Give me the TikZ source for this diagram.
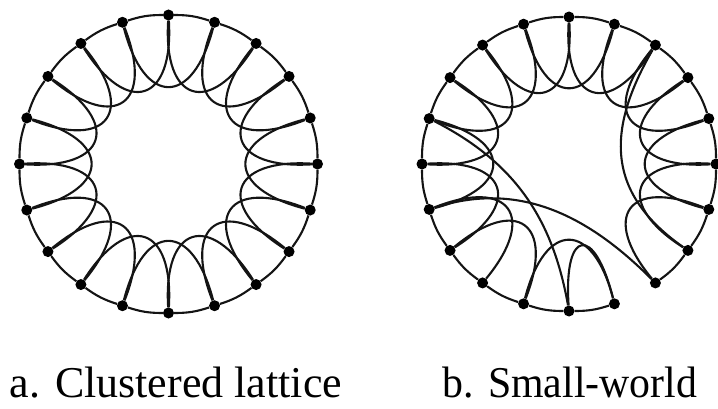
\documentclass[tikz,border=0pt]{standalone}
\usepackage{fontspec}
\usepackage{graphicx}
\setmainfont{Liberation Serif}
\usetikzlibrary{calc}
\begin{document}
\begin{tikzpicture}[x=1pt,y=1pt,
  dot/.style={circle,fill=black,draw=none,inner sep=0pt,minimum size=11pt},
  link/.style={line width=2.1pt,black!92},
  caption/.style={anchor=base,inner sep=0pt,font=\fontsize{44}{48}\selectfont}]
\useasboundingbox (0,0) rectangle (718,408);
\coordinate (Lc) at (168.5,244);
\coordinate (Rc) at (569,244);
\foreach \k in {0,...,19}{
  \pgfmathsetmacro\a{90-18*\k}
  \node[dot] (L\k) at ($(Lc)+(\a:149)$) {};
  \node[dot] (R\k) at ($(Rc)+(\a:147)$) {};
}
% left: clustered lattice
\foreach \k in {0,...,19}{
  \pgfmathtruncatemacro\n{mod(\k+1,20)}
  \pgfmathtruncatemacro\m{mod(\k+2,20)}
  \pgfmathsetmacro\a{90-18*\k}
  \draw[link] (L\k) to[bend left=9] (L\n);
  \draw[link] (L\k) .. controls ($(Lc)+(\a+5:62)$) and ($(Lc)+(\a-41:62)$) .. (L\m);
}
% right: small world
\foreach \k in {0,...,7,9,10,...,19}{
  \pgfmathtruncatemacro\n{mod(\k+1,20)}
  \draw[link] (R\k) to[bend left=9] (R\n);
}
\foreach \k in {0,...,6,9,11,12,...,19}{
  \pgfmathtruncatemacro\m{mod(\k+2,20)}
  \pgfmathsetmacro\a{90-18*\k}
  \draw[link] (R\k) .. controls ($(Rc)+(\a+5:61)$) and ($(Rc)+(\a-41:61)$) .. (R\m);
}
\draw[link] (R10) .. controls ($(Rc)+(-95:65)$) and ($(Rc)+(-67:65)$) .. (R9);
\draw[link] (R16) to[out=-27,in=100] (R10);
\draw[link] (R14) to[out=18,in=135] (R8);
\draw[link] (R2) to[out=-120,in=145,looseness=1.2] (R7);
% captions
\node[caption] (capA) at (176,11) {a. Clustered lattice};
\node[caption] (capB) at (570,11) {\scalebox{0.95}[1]{b. Small-world}};
\end{tikzpicture}
\end{document}
